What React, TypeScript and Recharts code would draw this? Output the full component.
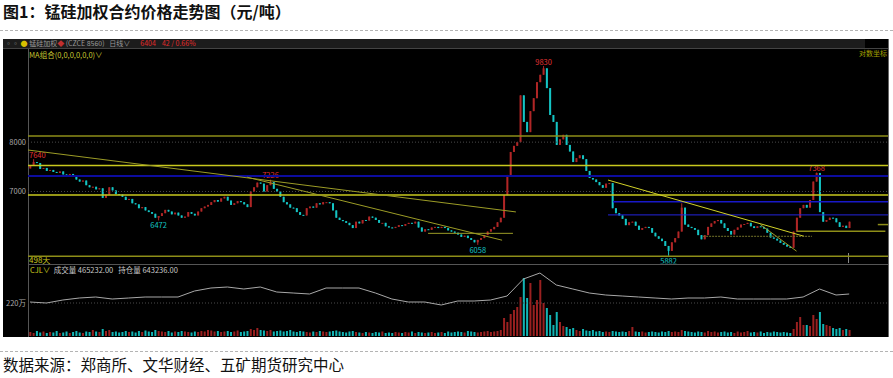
import React from 'react';
import { ComposedChart, Bar, Line, XAxis, YAxis, ReferenceLine } from 'recharts';

// daily closes, 锰硅加权 (one entry per candle)
const closes = [
  7500, 7580, 7560, 7440, 7460, 7400, 7420, 7380, 7360, 7390,
  7330, 7300, 7340, 7280, 7230, 7190, 7210, 7120, 7080, 7090,
  7040, 7060, 6880, 6940, 7080, 7020, 6950, 6940, 6900, 6840,
  6860, 6780, 6760, 6690, 6710, 6650, 6620, 6590, 6520, 6550,
  6600, 6660, 6630, 6580, 6610, 6560, 6520, 6540, 6620, 6590,
  6560, 6630, 6690, 6720, 6750, 6800, 6840, 6810, 6870, 6900,
  6830, 6750, 6780, 6820, 6800, 6760, 6710, 7000, 7080, 7170,
  7150, 7000, 7120, 7180, 7050, 7000, 6900, 6800, 6760, 6700,
  6690, 6620, 6570, 6560, 6690, 6720, 6700, 6780, 6760, 6800,
  6800, 6780, 6650, 6520, 6480, 6460, 6430, 6390, 6340, 6450,
  6420, 6480, 6470, 6540, 6520, 6480, 6430, 6430, 6370, 6350,
  6340, 6360, 6390, 6380, 6410, 6430, 6420, 6450, 6350, 6280,
  6320, 6310, 6350, 6360, 6340, 6360, 6340, 6300, 6280, 6260,
  6230, 6190, 6210, 6170, 6140, 6100, 6140, 6170, 6220, 6280,
  6320, 6360, 6440, 6520, 6930, 7320, 7790, 7920, 8000, 9080,
  8450, 8220, 8700, 9010, 9410, 9600, 9770, 9260, 8610, 8450,
  7940, 8060, 8160, 7940, 7800, 7580, 7660, 7720, 7640, 7400,
  7260, 7230, 7180, 7120, 7070, 7150, 7160, 6690, 6600, 6560,
  6500, 6390, 6440, 6450, 6380, 6310, 6340, 6360, 6340, 6260,
  6200, 6160, 6120, 6040, 5960, 6100, 6170, 6280, 6700, 6400,
  6360, 6340, 6310, 6220, 6150, 6220, 6360, 6420, 6460, 6480,
  6420, 6340, 6290, 6230, 6310, 6350, 6400, 6410, 6430, 6370,
  6340, 6370, 6360, 6330, 6260, 6180, 6160, 6130, 6090, 6060,
  6030, 6010, 6280, 6520, 6690, 6750, 6700, 6840, 7190, 7360,
  6620, 6450, 6480, 6520, 6510, 6440, 6360, 6380, 6340, 6450,
];
const firstOpen = 7450;

// marked extremes (index -> price)
const highMarks: Record<number, number> = { 1: 7640, 73: 7226, 156: 9830, 198: 6780, 239: 7368 };
const lowMarks: Record<number, number> = { 39: 6472, 136: 6058, 194: 5882 };
const labelledHighs = [1, 73, 156, 239];
const labelledLows = [39, 136, 194];

// volume, 万手
const volumes = [
  8, 6, 10, 7, 9, 6, 8, 7, 10, 6,
  7, 9, 6, 8, 10, 7, 6, 9, 8, 12,
  9, 8, 14, 10, 12, 8, 9, 7, 8, 10,
  8, 9, 7, 10, 8, 11, 9, 8, 12, 10,
  9, 8, 10, 7, 9, 8, 10, 9, 8, 7,
  9, 8, 10, 9, 12, 11, 9, 10, 8, 9,
  10, 8, 9, 11, 8, 9, 10, 14, 12, 16,
  12, 11, 10, 12, 9, 10, 11, 9, 10, 12,
  9, 8, 10, 9, 8, 7, 9, 8, 10, 9,
  8, 9, 10, 11, 9, 8, 7, 9, 10, 8,
  7, 6, 8, 7, 6, 8, 7, 9, 6, 7,
  6, 8, 7, 6, 8, 7, 9, 6, 8, 7,
  6, 7, 8, 6, 7, 8, 6, 9, 7, 8,
  9, 8, 7, 10, 9, 8, 7, 8, 9, 10,
  8, 9, 10, 12, 36, 28, 44, 52, 58, 78,
  116, 76, 106, 62, 72, 112, 66, 56, 42, 22,
  48, 28, 20, 18, 14, 16, 12, 10, 14, 11,
  10, 12, 9, 10, 8, 9, 8, 10, 9, 8,
  9, 8, 10, 18, 9, 8, 9, 7, 8, 9,
  8, 7, 9, 8, 10, 8, 9, 8, 12, 10,
  9, 8, 7, 9, 8, 7, 10, 8, 9, 7,
  8, 9, 7, 8, 6, 9, 7, 8, 10, 7,
  8, 7, 9, 6, 8, 7, 9, 8, 7, 8,
  7, 6, 14, 28, 38, 22, 22, 20, 42, 34,
  48, 24, 22, 20, 16, 14, 16, 12, 14, 12,
];

// open interest (万手) sampled at these candle indices
const oiIndex = [
  0, 5, 10, 15, 20, 25, 30, 35, 40, 45, 50, 55, 60, 65, 70, 75, 80, 85, 90, 95,
  100, 105, 110, 115, 120, 125, 130, 135, 140, 145, 150, 155, 160, 165, 170, 175,
  180, 185, 190, 195, 200, 205, 210, 215, 220, 225, 230, 235, 240, 245, 249,
];
const openInterest = [
  222, 220, 226, 230, 232, 228, 230, 232, 232, 232, 244, 250, 252, 248, 252, 242, 240, 238, 250, 250,
  250, 240, 228, 222, 222, 216, 224, 224, 226, 234, 268, 280, 256, 248, 240, 236,
  234, 232, 230, 228, 230, 230, 232, 228, 228, 228, 228, 232, 248, 236, 238,
];

const priceTicks = [7000, 8000];
const oiTicks = [220];

const RED = '#b02626';
const CYAN = '#14c4c4';
const OLIVE = '#8e8e18';
const YEL = '#c8c81e';
const FONT = '"Noto Sans CJK SC", "Noto Sans", sans-serif';

const priceRows = closes.map((c, i) => {
  const o = i === 0 ? firstOpen : closes[i - 1];
  const h = Math.max(o, c, highMarks[i] ?? 0);
  const l = Math.min(o, c, lowMarks[i] ?? Infinity);
  return { i, o, c, h, l, range: [l, h] };
});

const volRows = volumes.map((v, i) => {
  const k = oiIndex.indexOf(i);
  return { i, vol: v, up: priceRows[i].c >= priceRows[i].o, oi: k >= 0 ? openInterest[k] : null };
});

const Candle = (props: any) => {
  const { x, y, width, height, payload } = props;
  if (!payload) return null;
  const { o, c, h, l, i } = payload;
  const color = c >= o ? RED : CYAN;
  const lh = Math.log(h);
  const span = lh - Math.log(l) || 1;
  const py = (v: number) => y + ((lh - Math.log(v)) / span) * height;
  const top = py(Math.max(o, c));
  const bot = py(Math.min(o, c));
  const cx = x + width / 2;
  // keep labels inside the plot on the left edge
  const lx = cx - 9 < 29 ? 29 : cx;
  const anchor = cx - 9 < 29 ? 'start' : 'middle';
  return (
    <g>
      <line x1={cx} x2={cx} y1={y} y2={y + height} stroke={color} strokeWidth={1} />
      <rect x={x} y={top} width={width} height={Math.max(1, bot - top)} fill={color} />
      {labelledHighs.includes(i) && (
        <text x={lx} y={y - 1.5} textAnchor={anchor} fontSize={7.5} fill="#e03232" fontFamily={FONT}>{h}</text>
      )}
      {labelledLows.includes(i) && (
        <text x={lx} y={y + height + 8} textAnchor={anchor} fontSize={7.5} fill={CYAN} fontFamily={FONT}>{l}</text>
      )}
    </g>
  );
};

const VolBar = (props: any) => {
  const { x, y, width, height, payload } = props;
  return <rect x={x} y={y} width={width} height={height} fill={payload.up ? '#9a2020' : '#12b4b4'} />;
};

const seg = (x1: number, y1: number, x2: number, y2: number) => [{ x: x1, y: y1 }, { x: x2, y: y2 }];

const abs = (s: React.CSSProperties): React.CSSProperties => ({ position: 'absolute', ...s });

export default function App() {
  const xDomain = [-0.6, 260.8];
  return (
    <div style={abs({ left: 0, top: 0, width: 893, height: 378, background: '#fff', overflow: 'hidden', fontFamily: FONT })}>
      <div style={abs({ left: 3, top: 2, fontSize: 16, fontWeight: 700, color: '#111', lineHeight: '18px', whiteSpace: 'nowrap' })}>
        图1：锰硅加权合约价格走势图（元/吨）
      </div>
      <div style={abs({ left: 0, top: 30, width: 893, borderTop: '1px dashed #b4b4b4' })} />

      {/* black panel */}
      <div style={abs({ left: 3, top: 39, width: 886, height: 298, background: '#000' })} />
      <div style={abs({ left: 3, top: 39, width: 862, height: 9, background: '#1c1c1c' })} />
      <div style={abs({ left: 3, top: 48, width: 886, height: 1, background: '#444' })} />
      <div style={abs({ left: 28, top: 49, width: 1, height: 288, background: '#555' })} />
      <div style={abs({ left: 28, top: 264, width: 860, height: 1, background: '#555' })} />
      <div style={abs({ left: 888, top: 39, width: 1, height: 298, background: '#666' })} />
      <div style={abs({ left: 848, top: 253, width: 1, height: 10, background: '#888' })} />

      <div style={abs({ left: 5, top: 39, fontSize: 7, lineHeight: '9px', color: '#9a9a9a', whiteSpace: 'nowrap' })}>
        ▫▫ <span style={{ color: '#d8c000' }}>●</span> 锰硅加权<span style={{ color: '#c03030' }}>◆</span> (CZCE 8560)&nbsp;&nbsp; 日线∨
        <span style={{ color: '#e02a2a', marginLeft: 10 }}>6404</span>
        <span style={{ color: '#e02a2a', marginLeft: 6 }}>42 / 0.66%</span>
      </div>
      <div style={abs({ left: 29, top: 50, fontSize: 7.5, lineHeight: '9px', color: '#c8c832', whiteSpace: 'nowrap' })}>
        MA组合(0,0,0,0,0,0)∨
      </div>
      <div style={abs({ left: 859, top: 49, fontSize: 7, lineHeight: '9px', color: '#a8a000', whiteSpace: 'nowrap' })}>对数坐标</div>
      <div style={abs({ left: 29, top: 255, fontSize: 8, lineHeight: '9px', color: '#c8c81e', whiteSpace: 'nowrap' })}>498天</div>
      <div style={abs({ left: 30, top: 265, fontSize: 7.5, lineHeight: '9px', color: '#c8c8c8', whiteSpace: 'nowrap' })}>
        <span style={{ color: '#d2d21e' }}>CJL∨</span>&nbsp;&nbsp;成交量 465232.00&nbsp;&nbsp; 持仓量 643236.00
      </div>

      {/* price candles */}
      <div style={abs({ left: 0, top: 0 })}>
        <ComposedChart width={893} height={378} data={priceRows} margin={{ top: 49.5, right: 5, bottom: 114.5, left: 0 }}>
          <XAxis dataKey="i" type="number" domain={xDomain} allowDataOverflow hide />
          <YAxis
            scale="log"
            domain={[5760, 10280]}
            allowDataOverflow
            ticks={priceTicks}
            width={28}
            tickSize={0}
            tickMargin={2}
            axisLine={false}
            tickLine={false}
            tick={{ fontSize: 7.5, fill: '#a8a8a8', fontFamily: FONT }}
          />
          <ReferenceLine y={8000} stroke="#4a4a4a" strokeDasharray="1 2" />
          <ReferenceLine y={7000} stroke="#4a4a4a" strokeDasharray="1 2" />
          <ReferenceLine y={8133} stroke={OLIVE} strokeWidth={1.5} />
          <ReferenceLine y={7510} stroke={YEL} strokeWidth={1.5} />
          <ReferenceLine y={7300} stroke="#0c0c9e" strokeWidth={2} />
          <ReferenceLine y={6934} stroke={YEL} strokeWidth={1.5} />
          <ReferenceLine y={5875} stroke={OLIVE} strokeWidth={1.5} />
          <ReferenceLine segment={seg(177.2, 6809, 260.8, 6809)} stroke="#1818c8" strokeWidth={1.5} ifOverflow="visible" />
          <ReferenceLine segment={seg(175.7, 6570, 260.8, 6570)} stroke="#2424dc" strokeWidth={1} ifOverflow="visible" />
          <ReferenceLine segment={seg(233, 6284, 260, 6284)} stroke={OLIVE} strokeWidth={1.5} ifOverflow="visible" />
          <ReferenceLine segment={seg(257.7, 6400, 260.8, 6400)} stroke={OLIVE} strokeWidth={1.5} ifOverflow="visible" />
          <ReferenceLine segment={seg(-0.6, 7831, 147.7, 6623)} stroke="#9c9c26" strokeWidth={1} ifOverflow="visible" />
          <ReferenceLine segment={seg(66, 7276, 143.5, 6135)} stroke="#9c9c26" strokeWidth={1} ifOverflow="visible" />
          <ReferenceLine segment={seg(121, 6250, 146.8, 6250)} stroke="#9c9c26" strokeWidth={1} ifOverflow="visible" />
          <ReferenceLine segment={seg(175.7, 7220, 235.3, 6200)} stroke="#d2d228" strokeWidth={1} ifOverflow="visible" />
          <ReferenceLine segment={seg(222, 6400, 233, 5956)} stroke="#9c9c26" strokeWidth={1} ifOverflow="visible" />
          <ReferenceLine segment={seg(204.6, 6200, 237.7, 6200)} stroke="#74742a" strokeDasharray="2 1" strokeWidth={1} ifOverflow="visible" />
          <Bar dataKey="range" barSize={2} shape={Candle} isAnimationActive={false} />
        </ComposedChart>
      </div>

      {/* volume + open interest */}
      <div style={abs({ left: 0, top: 0 })}>
        <ComposedChart width={893} height={378} data={volRows} margin={{ top: 272, right: 5, bottom: 42, left: 0 }}>
          <XAxis dataKey="i" type="number" domain={xDomain} allowDataOverflow hide />
          <YAxis
            yAxisId="oi"
            domain={[154, 282]}
            allowDataOverflow
            ticks={oiTicks}
            tickFormatter={(v: number) => `${v}万`}
            width={28}
            tickSize={0}
            tickMargin={2}
            axisLine={false}
            tickLine={false}
            tick={{ fontSize: 7.5, fill: '#a8a8a8', fontFamily: FONT }}
          />
          <YAxis yAxisId="v" domain={[0, 128]} hide allowDataOverflow />
          <ReferenceLine yAxisId="oi" y={220} stroke="#4a4a4a" strokeDasharray="1 2" />
          <Bar yAxisId="v" dataKey="vol" barSize={2} shape={VolBar} isAnimationActive={false} />
          <Line yAxisId="oi" dataKey="oi" type="linear" stroke="#a8a8a8" strokeWidth={1} dot={false} connectNulls isAnimationActive={false} />
        </ComposedChart>
      </div>

      <div style={abs({ left: 0, top: 351, width: 893, borderTop: '1px dashed #b4b4b4' })} />
      <div style={abs({ left: 3, top: 354, fontSize: 15.5, color: '#111', lineHeight: '21px', whiteSpace: 'nowrap' })}>
        数据来源：郑商所、文华财经、五矿期货研究中心
      </div>
    </div>
  );
}
